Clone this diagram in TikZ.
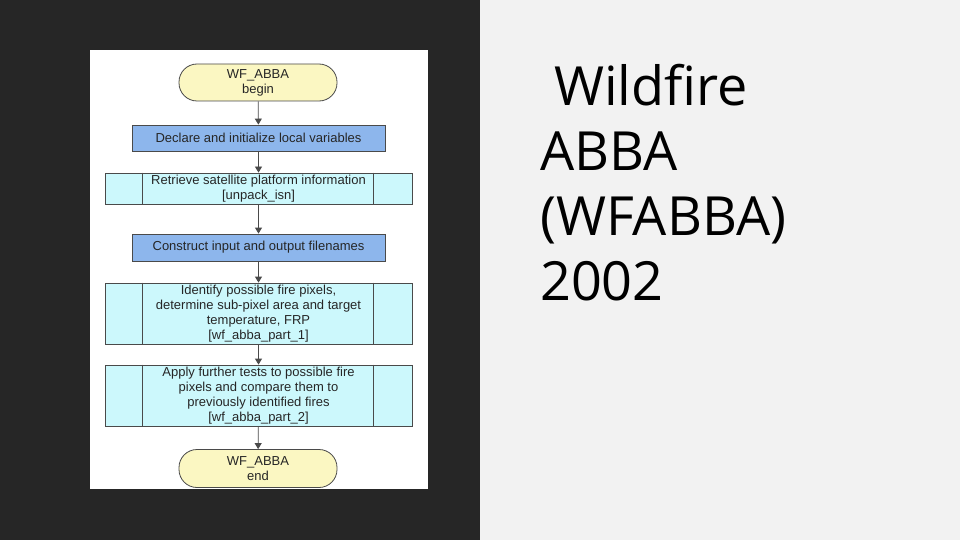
\documentclass[tikz,border=0pt]{standalone}
\usepackage{fontspec}
\setmainfont{Liberation Sans}
\newfontfamily\titlefont{Open Sans}
\usetikzlibrary{arrows.meta}
\definecolor{darkbg}{HTML}{262626}
\definecolor{lightbg}{HTML}{F2F2F2}
\definecolor{termyellow}{HTML}{FBF7C2}
\definecolor{procblue}{HTML}{8DB6EC}
\definecolor{subcyan}{HTML}{CCF8FC}
\definecolor{edge}{HTML}{4A4A4A}
\tikzset{
  flow/.style={font=\fontsize{13}{15}\selectfont, text=black!85, align=center, inner sep=0pt, draw=edge, line width=0.8pt},
  terminal/.style={flow, fill=termyellow, rounded corners=18pt, minimum width=158pt},
  procbox/.style={flow, fill=procblue, minimum width=253pt},
  subproc/.style={flow, fill=subcyan, minimum width=307pt},
  conn/.style={draw=edge, line width=0.8pt, -{Triangle[width=7pt,length=6pt]}}
}
\newcommand{\sidebars}[1]{%
  \draw[edge, line width=0.8pt] ([xshift=38pt]#1.north west) -- ([xshift=38pt]#1.south west);
  \draw[edge, line width=0.8pt] ([xshift=-39pt]#1.north east) -- ([xshift=-39pt]#1.south east);}
\begin{document}
\begin{tikzpicture}[x=1pt,y=-1pt]
\useasboundingbox (0,0) rectangle (960,540);
\fill[darkbg] (0,0) rectangle (480,540);
\fill[lightbg] (480,0) rectangle (960,540);
\fill[white] (90,50) rectangle (428,489);

\node[terminal, minimum height=37pt] (begin) at (258,82.5) {WF\_ABBA\\begin};
\node[procbox, minimum height=26pt] (declare) at (258.5,138) {Declare and initialize local variables};
\node[subproc, minimum height=31pt] (retrieve) at (258.5,188.5) {Retrieve satellite platform information\\{}[unpack\_isn]};
\node[procbox, minimum height=27pt] (construct) at (258.5,247.5) {Construct input and output filenames};
\node[subproc, minimum height=61pt] (identify) at (258.5,313.5) {Identify possible fire pixels,\\determine sub-pixel area and target\\temperature, FRP\\{}[wf\_abba\_part\_1]};
\node[subproc, minimum height=61pt] (apply) at (258.5,395.5) {Apply further tests to possible fire\\pixels and compare them to\\previously identified fires\\{}[wf\_abba\_part\_2]};
\node[terminal, minimum height=38pt] (end) at (258,468.5) {WF\_ABBA\\end};

\sidebars{retrieve}
\sidebars{identify}
\sidebars{apply}

\draw[conn] (begin) -- (declare);
\draw[conn] (declare) -- (retrieve);
\draw[conn] (retrieve) -- (construct);
\draw[conn] (construct) -- (identify);
\draw[conn] (identify) -- (apply);
\draw[conn] (apply) -- (end);

\node[anchor=base west, align=left, inner sep=0pt, text=black, font=\titlefont\fontsize{54}{65}\selectfont] (title) at (540,300) {\ Wildfire\\ABBA\\(WFABBA)\\2002};
\end{tikzpicture}
\end{document}
